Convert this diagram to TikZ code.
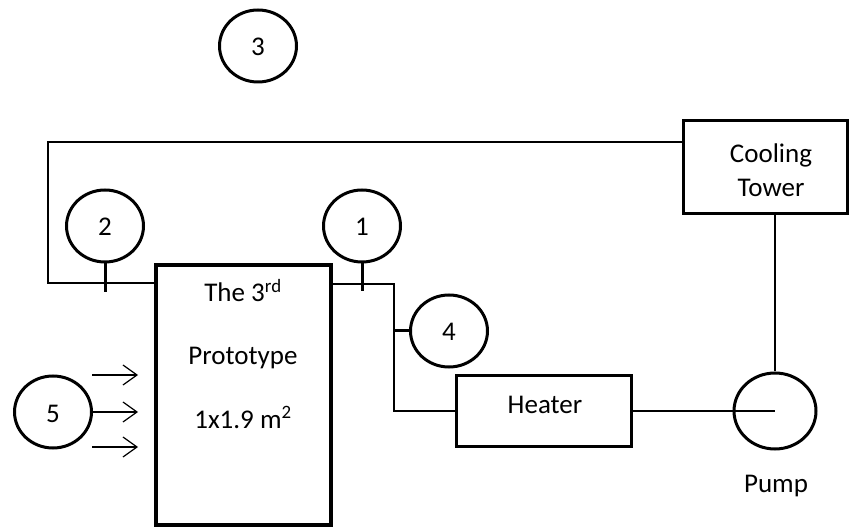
\documentclass[tikz,border=0pt]{standalone}
\usepackage{fontspec}
\setmainfont{Carlito}
\usepackage{tikz}
\usetikzlibrary{shapes.geometric, arrows.meta}

\tikzset{
	gauge/.style={ellipse, draw, line width=3pt, minimum width=77, minimum height=72, inner sep=0pt},
	unitbox/.style={rectangle, draw, line width=3pt, inner sep=0pt},
	pipe/.style={line width=1.3pt},
	stem/.style={line width=3pt},
	flow/.style={line width=1.2pt, -{Straight Barb[length=14pt, width=20pt, line width=1.2pt]}},
	lbl/.style={font=\fontsize{27}{30}\selectfont, inner sep=0pt, anchor=base}
}

\begin{document}
\begin{tikzpicture}[x=1pt, y=-1pt]
			\useasboundingbox (0,0) rectangle (849,529);
			
			% units
			\node[unitbox, line width=4.5pt, minimum width=175, minimum height=260] (proto) at (243.5,395) {};
			\node[unitbox, minimum width=175.5, minimum height=71] (heater) at (544,411) {};
			\node[unitbox, minimum width=164, minimum height=93] (tower) at (765,167.5) {};
			\node[ellipse, draw, line width=3pt, minimum width=82, minimum height=76, inner sep=0pt] (pump) at (775,411) {};
			
			% gauges
			\node[gauge] (g1) at (362,226) {};
			\node[gauge] (g2) at (105,226) {};
			\node[gauge] (g3) at (258,46) {};
			\node[gauge] (g4) at (449,331) {};
			\node[gauge] (g5) at (53,412) {};
			
			\node[lbl] at (362,236) {1};
			\node[lbl] at (105,236) {2};
			\node[lbl] at (258,56) {3};
			\node[lbl] at (449,341) {4};
			\node[lbl] at (53,422) {5};
			
			\node[lbl] (t1) at (243,302) {The 3\textsuperscript{rd}};
			\node[lbl] (t2) at (243,365) {Prototype};
			\node[lbl] (t3) at (243,428) {1x1.9 m\textsuperscript{2}};
			\node[lbl] (th) at (545,413) {Heater};
			\node[lbl] (tc1) at (771,163) {Cooling};
			\node[lbl] (tc2) at (771,197) {Tower};
			\node[lbl] (tp) at (776,492) {Pump};
			
			% pipes
			\coordinate (cl) at (48,142);
			\coordinate (cr) at (394,284);
			\coordinate (s2) at (105,292);
			\coordinate (s1) at (362,291);
			
			\draw[pipe] (tower.west |- cl) -- (cl) |- (proto.west |- 0,283);
			\draw[pipe] (proto.east |- cr) -- (cr) |- (heater.west);
			\draw[pipe] (heater.east) -- (pump.center);
			\draw[pipe] (pump.north |- tower.south) -- (pump.north);
			
			\draw[stem] (g2.south) -- (s2);
			\draw[stem] (g1.south) -- (s1);
			\draw[stem] (cr |- g4.west) -- (g4.west);
			
			% incoming flow
			\draw[flow] (92,375) -- (138,375);
			\draw[flow] (g5.east) -- (138,412);
			\draw[flow] (92,447) -- (138,447);
		\end{tikzpicture}
\end{document}
